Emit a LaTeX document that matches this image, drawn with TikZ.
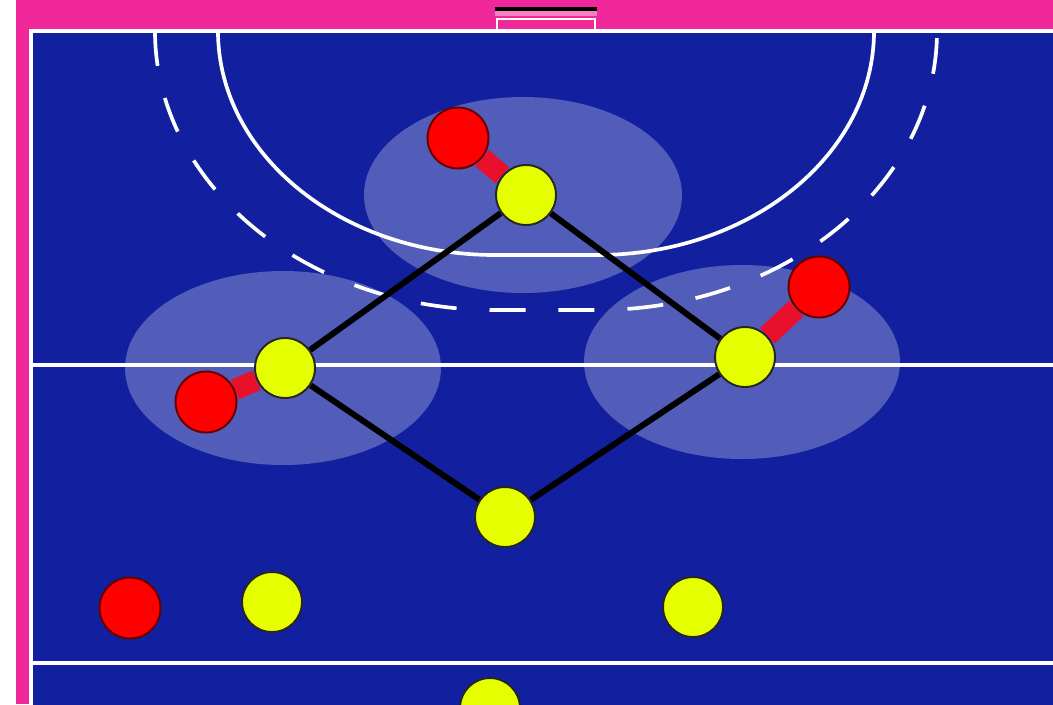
\documentclass[tikz,border=0pt]{standalone}
\usepackage{tikz}
\usetikzlibrary{positioning}
\definecolor{hbpink}{HTML}{F0289A}
\definecolor{hbblue}{HTML}{1220A0}
\definecolor{hbyellow}{HTML}{E6FF00}
\definecolor{hbred}{HTML}{FF0000}
\definecolor{hbbar}{HTML}{E8102A}
\pgfdeclarelayer{court}
\pgfdeclarelayer{links}
\pgfsetlayers{court,links,main}

\begin{document}
\begin{tikzpicture}[
    x=0.02cm, y=-0.02cm,
    attack/.style={circle, draw=black!85, fill=hbyellow, line width=1.1pt,
                   minimum size=1.2cm, inner sep=0pt},
    defend/.style={circle, draw=black!60!red, fill=hbred, line width=1.1pt,
                   minimum size=1.22cm, inner sep=0pt},
    courtline/.style={white, line width=2.1pt},
    zone/.style={fill=white, fill opacity=0.27},
    pass/.style={black, line width=3.4pt},
    press/.style={hbbar, line width=12pt},
  ]
  \useasboundingbox (0,0) rectangle (1053,704);
  \clip (0,0) rectangle (1053,704);

  % Court
  \begin{pgfonlayer}{court}
    \fill[white] (0,0) rectangle (16,704);
    \fill[hbpink] (16,0) rectangle (1053,704);
    \draw[courtline, fill=hbblue] (31,31) rectangle (1080,730);
    % goal
    \fill[hbpink!60!white] (495,10) rectangle (597,16);
    \draw[black, line width=2pt] (495,9) -- (597,9);
    \draw[white, line width=1.2pt] (497,31) |- (595,19) -- (595,31);
    % 6m and 9m lines
    \draw[courtline] (218,31) arc[start angle=180, end angle=90, x radius=277, y radius=224]
      -- (597,255) arc[start angle=90, end angle=0, x radius=277, y radius=224];
    \draw[courtline, dash pattern=on 0.72cm off 0.66cm, dash phase=0.02cm]
      (155,31) arc[start angle=180, end angle=90, x radius=340, y radius=279]
      -- (597,310) arc[start angle=90, end angle=0, x radius=340, y radius=279];
    \draw[courtline] (31,365) -- (1080,365);
    \draw[courtline] (31,663) -- (1080,663);
    % zones
    \fill[zone] (523,195) ellipse[x radius=159, y radius=98];
    \fill[zone] (283,368) ellipse[x radius=158, y radius=97];
    \fill[zone] (742,362) ellipse[x radius=158, y radius=97];
  \end{pgfonlayer}

  % Players
  \node[attack] (yTop)   at (526,195) {};
  \node[attack] (yLeft)  at (285,368) {};
  \node[attack] (yRight) at (745,357) {};
  \node[attack] (yPivot) at (505,517) {};
  \node[attack] (yWingL) at (272,602) {};
  \node[attack] (yWingR) at (693,607) {};
  \node[attack] (yBack)  at (490,708) {};
  \node[defend] (rTop)   at (458,138) {};
  \node[defend] (rLeft)  at (206,402) {};
  \node[defend] (rRight) at (819,287) {};
  \node[defend] (rFree)  at (130,608) {};

  % Links
  \begin{pgfonlayer}{links}
    \draw[pass] (yTop) -- (yLeft) -- (yPivot) -- (yRight) -- (yTop);
    \draw[press] (rTop) -- (yTop);
    \draw[press] (rLeft) -- (yLeft);
    \draw[press] (rRight) -- (yRight);
  \end{pgfonlayer}
\end{tikzpicture}
\end{document}
